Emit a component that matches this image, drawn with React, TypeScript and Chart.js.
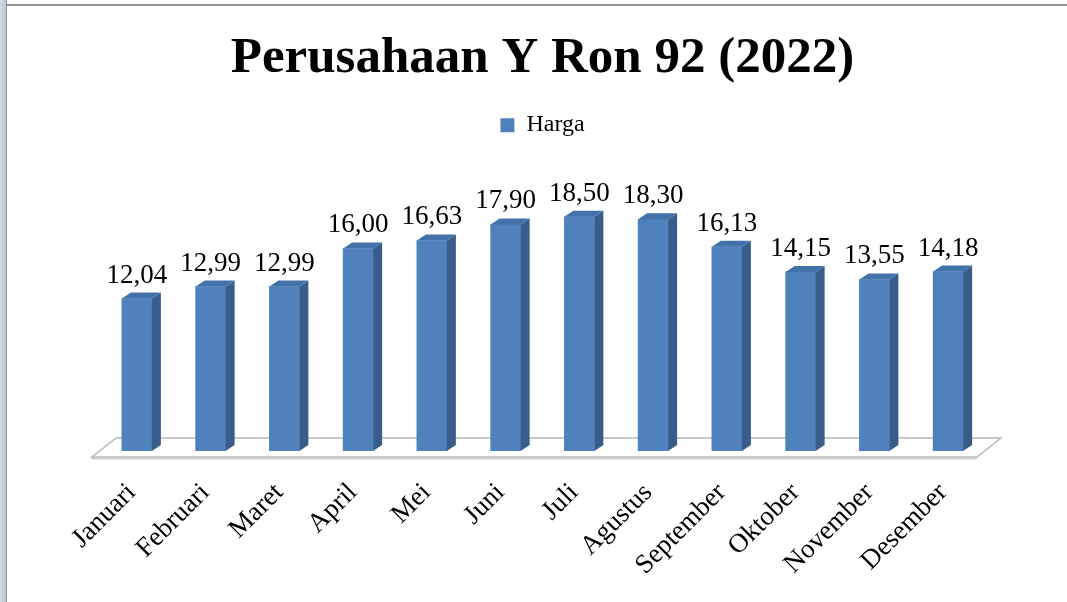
import React, { useEffect, useRef } from "react";
import { Chart, registerables } from "chart.js";

Chart.register(...registerables);

const months = [
  "Januari", "Februari", "Maret", "April", "Mei", "Juni",
  "Juli", "Agustus", "September", "Oktober", "November", "Desember",
];
const harga = [12.04, 12.99, 12.99, 16.0, 16.63, 17.9, 18.5, 18.3, 16.13, 14.15, 13.55, 14.18];
const seriesName = "Harga";
const titleText = "Perusahaan Y Ron 92 (2022)";

const FONT = "'Liberation Serif', 'Times New Roman', serif";
const FRONT = "#4f81bd";
const SIDE = "#385d8a";
const TOP = "#4372aa";
const DX = 9;
const DY = 6;

const floorPlugin = {
  id: "floor3d",
  beforeDatasetsDraw(chart: any) {
    const { ctx, chartArea } = chart;
    const { left, right, bottom } = chartArea;
    ctx.save();
    ctx.beginPath();
    ctx.moveTo(left - 8, bottom + 6);
    ctx.lineTo(right - 8, bottom + 6);
    ctx.lineTo(right + 16, bottom - 13);
    ctx.lineTo(left + 16, bottom - 13);
    ctx.closePath();
    ctx.fillStyle = "#ffffff";
    ctx.fill();
    ctx.strokeStyle = "#b8b8b8";
    ctx.lineWidth = 1.5;
    ctx.stroke();
    ctx.beginPath();
    ctx.moveTo(left - 8, bottom + 7.5);
    ctx.lineTo(right - 8, bottom + 7.5);
    ctx.strokeStyle = "#cfcfcf";
    ctx.lineWidth = 2;
    ctx.stroke();
    ctx.restore();
  },
};

const bar3dPlugin = {
  id: "bar3d",
  afterDatasetsDraw(chart: any) {
    const { ctx } = chart;
    const meta = chart.getDatasetMeta(0);
    const values = chart.data.datasets[0].data as number[];
    ctx.save();
    meta.data.forEach((bar: any, i: number) => {
      const { x, y, base, width } = bar.getProps(["x", "y", "base", "width"], true);
      const l = x - width / 2;
      const r = x + width / 2;
      ctx.fillStyle = SIDE;
      ctx.beginPath();
      ctx.moveTo(r, base);
      ctx.lineTo(r, y);
      ctx.lineTo(r + DX, y - DY);
      ctx.lineTo(r + DX, base - DY);
      ctx.closePath();
      ctx.fill();
      ctx.fillStyle = TOP;
      ctx.beginPath();
      ctx.moveTo(l, y);
      ctx.lineTo(r, y);
      ctx.lineTo(r + DX, y - DY);
      ctx.lineTo(l + DX, y - DY);
      ctx.closePath();
      ctx.fill();
      ctx.fillStyle = "#000000";
      ctx.font = `27px ${FONT}`;
      ctx.textAlign = "center";
      ctx.textBaseline = "alphabetic";
      ctx.fillText(values[i].toFixed(2).replace(".", ","), x, y - 16);
    });
    ctx.restore();
  },
};

export default function App() {
  const ref = useRef<HTMLCanvasElement | null>(null);
  useEffect(() => {
    if (!ref.current) return;
    const chart = new Chart(ref.current, {
      type: "bar",
      data: {
        labels: months,
        datasets: [
          {
            label: seriesName,
            data: harga,
            backgroundColor: FRONT,
            borderWidth: 0,
            barThickness: 30,
          },
        ],
      },
      options: {
        responsive: false,
        animation: false,
        devicePixelRatio: 1,
        layout: { padding: { left: 100, right: 82, top: 0, bottom: 0 } },
        plugins: {
          title: {
            display: true,
            text: titleText,
            color: "#000",
            font: { family: FONT, size: 51, weight: "bold" },
            padding: { top: 28, bottom: 6 },
          },
          legend: {
            display: true,
            position: "top",
            labels: {
              color: "#000",
              font: { family: FONT, size: 24 },
              boxWidth: 14,
              boxHeight: 14,
              padding: 18,
            },
          },
          tooltip: { enabled: false },
        },
        scales: {
          x: {
            grid: { display: false, drawTicks: false },
            border: { display: false },
            ticks: {
              color: "#000",
              font: { family: FONT, size: 27 },
              maxRotation: 45,
              minRotation: 45,
              autoSkip: false,
              padding: 26,
              labelOffset: -5,
            },
            afterFit: (scale: any) => {
              scale.height = 151;
            },
          },
          y: {
            display: false,
            min: 0,
            max: 24,
          },
        },
      },
      plugins: [floorPlugin, bar3dPlugin],
    });
    return () => chart.destroy();
  }, []);

  return (
    <div
      style={{
        position: "absolute",
        left: 0,
        top: 0,
        width: 1067,
        height: 602,
        background: "#fff",
        overflow: "hidden",
      }}
    >
      <canvas ref={ref} width={1067} height={602} style={{ position: "absolute", left: 0, top: 0 }} />
      <div style={{ position: "absolute", left: 0, top: 0, width: 6, height: 602, background: "linear-gradient(to right, #d3dcdf, #bcc7cc)" }} />
      <div style={{ position: "absolute", left: 6, top: 0, width: 1, height: 602, background: "#9a9a9a" }} />
      <div style={{ position: "absolute", left: 6, top: 4, width: 1061, height: 2, background: "#909090" }} />
    </div>
  );
}
